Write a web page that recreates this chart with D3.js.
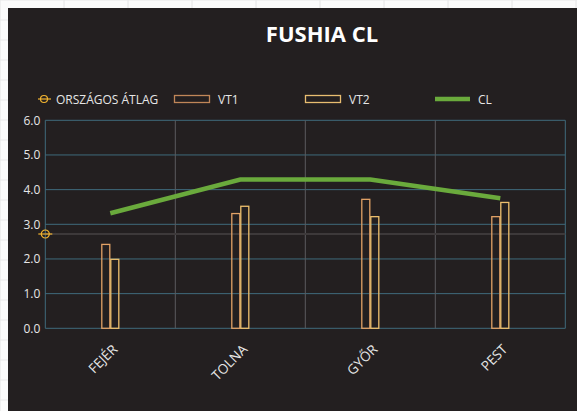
<!DOCTYPE html>
<html>
<head>
<meta charset="utf-8">
<script src="https://cdn.jsdelivr.net/npm/d3@7"></script>
<style>
  body { margin: 0; background: #fff; }
  text { font-family: "Open Sans", sans-serif; }
</style>
</head>
<body>
<div id="chart-area"></div>
<script>
var categories = ["FEJÉR", "TOLNA", "GYŐR", "PEST"];
var vt1 = [2.42, 3.31, 3.72, 3.22];
var vt2 = [1.99, 3.52, 3.22, 3.63];
var cl = [3.32, 4.29, 4.29, 3.75];
var avg = 2.72;
var yTicks = [0, 1, 2, 3, 4, 5, 6];
var legendLabels = ["ORSZÁGOS ÁTLAG", "VT1", "VT2", "CL"];

var svg = d3.select("#chart-area")
  .append("svg")
    .attr("width", 577)
    .attr("height", 411);

// spreadsheet behind the chart
var sheet = svg.append("g");
sheet.append("rect").attr("width", 577).attr("height", 411).attr("fill", "#fbfbfb");
d3.range(0, 577, 64).forEach(function(x) {
  sheet.append("line").attr("x1", x).attr("x2", x).attr("y1", 0).attr("y2", 411)
    .attr("stroke", "#e4e4e4");
});
d3.range(0, 411, 20).forEach(function(y) {
  sheet.append("line").attr("x1", 0).attr("x2", 577).attr("y1", y).attr("y2", y)
    .attr("stroke", "#e8e8e8");
});

svg.append("rect")
  .attr("x", 8).attr("y", 8)
  .attr("width", 580).attr("height", 410)
  .attr("fill", "#231f20");

var margin = { left: 45.3, right: 565.3, top: 120.3, bottom: 328.3 };

var x = d3.scaleBand()
  .domain(categories)
  .range([margin.left, margin.right]);

var y = d3.scaleLinear()
  .domain([0, 6])
  .range([margin.bottom, margin.top]);

// grid
var grid = svg.append("g");
grid.selectAll("line.h")
  .data(yTicks)
  .enter()
  .append("line")
    .attr("x1", margin.left).attr("x2", margin.right)
    .attr("y1", function(d) { return y(d); })
    .attr("y2", function(d) { return y(d); })
    .attr("stroke", "#3f6b7c")
    .attr("stroke-width", 1);

var vlines = categories.map(function(c) { return x(c); }).concat([margin.right]);
grid.selectAll("line.v")
  .data(vlines)
  .enter()
  .append("line")
    .attr("x1", function(d) { return d; })
    .attr("x2", function(d) { return d; })
    .attr("y1", margin.top).attr("y2", margin.bottom)
    .attr("stroke", function(d, i) { return i == 0 || i == 4 ? "#3f6b7c" : "#5a5a5e"; })
    .attr("stroke-width", 1);

// y axis
var yAxis = d3.axisLeft(y)
  .tickValues(yTicks)
  .tickFormat(d3.format(".1f"))
  .tickSize(0)
  .tickPadding(5);

svg.append("g")
  .attr("transform", "translate(" + margin.left + ",0)")
  .call(yAxis)
  .call(function(g) { g.select(".domain").remove(); })
  .selectAll("text")
    .attr("fill", "#e6e6e6")
    .style("font-size", "12px")
    .style("font-family", "Open Sans");

// x axis
var xAxis = d3.axisBottom(x).tickSize(0).tickPadding(0);
svg.append("g")
  .attr("transform", "translate(0," + margin.bottom + ")")
  .call(xAxis)
  .call(function(g) { g.select(".domain").remove(); })
  .selectAll("text")
    .attr("fill", "#e6e6e6")
    .style("font-size", "13.5px")
    .style("font-family", "Open Sans")
    .attr("text-anchor", "end")
    .attr("dy", null)
    .attr("transform", "translate(8,22) rotate(-45)");

// average line
svg.append("line")
  .attr("x1", margin.left).attr("x2", margin.right)
  .attr("y1", y(avg)).attr("y2", y(avg))
  .attr("stroke", "#3d393a")
  .attr("stroke-width", 2);

// bars
var bw = 9;
var bars = svg.append("g");
bars.selectAll("rect.vt1")
  .data(vt1)
  .enter()
  .append("rect")
    .attr("x", function(d, i) { return x(categories[i]) + x.bandwidth() / 2 - bw + 0.5; })
    .attr("y", function(d) { return y(d); })
    .attr("width", bw - 1)
    .attr("height", function(d) { return y(0) - y(d); })
    .attr("fill", "none")
    .attr("stroke", "#e2a266")
    .attr("stroke-width", 1.3);

bars.selectAll("rect.vt2")
  .data(vt2)
  .enter()
  .append("rect")
    .attr("x", function(d, i) { return x(categories[i]) + x.bandwidth() / 2 + 0.5; })
    .attr("y", function(d) { return y(d); })
    .attr("width", bw - 1)
    .attr("height", function(d) { return y(0) - y(d); })
    .attr("fill", "none")
    .attr("stroke", "#eec06e")
    .attr("stroke-width", 1.3);

// CL line
var line = d3.line()
  .x(function(d, i) { return x(categories[i]) + x.bandwidth() / 2; })
  .y(function(d) { return y(d); });

svg.append("path")
  .datum(cl)
  .attr("d", line)
  .attr("fill", "none")
  .attr("stroke", "#6aaa3c")
  .attr("stroke-width", 4.5);

// average marker
var mk = svg.append("g").attr("transform", "translate(" + margin.left + "," + y(avg) + ")");
mk.append("line").attr("x1", -7).attr("x2", 7).attr("stroke", "#f2b430").attr("stroke-width", 1.2);
mk.append("circle").attr("r", 4).attr("fill", "none").attr("stroke", "#f2b430").attr("stroke-width", 1.2);

// title
svg.append("text")
  .attr("x", 322).attr("y", 42)
  .attr("text-anchor", "middle")
  .attr("fill", "#ffffff")
  .style("font-size", "22px")
  .style("font-weight", "bold")
  .text("FUSHIA CL");

// legend
var lg = svg.append("g");
var ly = 99;
var g0 = lg.append("g").attr("transform", "translate(44," + ly + ")");
g0.append("line").attr("x1", -6).attr("x2", 7).attr("stroke", "#f2b430").attr("stroke-width", 1.2);
g0.append("circle").attr("r", 3.5).attr("fill", "none").attr("stroke", "#f2b430").attr("stroke-width", 1.2);

lg.append("rect").attr("x", 174.5).attr("y", 95.5).attr("width", 35).attr("height", 7)
  .attr("fill", "none").attr("stroke", "#c08658").attr("stroke-width", 1.3);
lg.append("rect").attr("x", 305.5).attr("y", 95.5).attr("width", 35).attr("height", 7)
  .attr("fill", "none").attr("stroke", "#e8bd70").attr("stroke-width", 1.3);
lg.append("line").attr("x1", 435).attr("x2", 470).attr("y1", ly).attr("y2", ly)
  .attr("stroke", "#6aaa3c").attr("stroke-width", 4.5);

var lx = [56, 218, 349, 478];
lg.selectAll("text")
  .data(legendLabels)
  .enter()
  .append("text")
    .attr("x", function(d, i) { return lx[i]; })
    .attr("y", ly + 4.5)
    .attr("fill", "#e6e6e6")
    .style("font-size", "12px")
    .text(function(d) { return d; });
</script>
</body>
</html>
